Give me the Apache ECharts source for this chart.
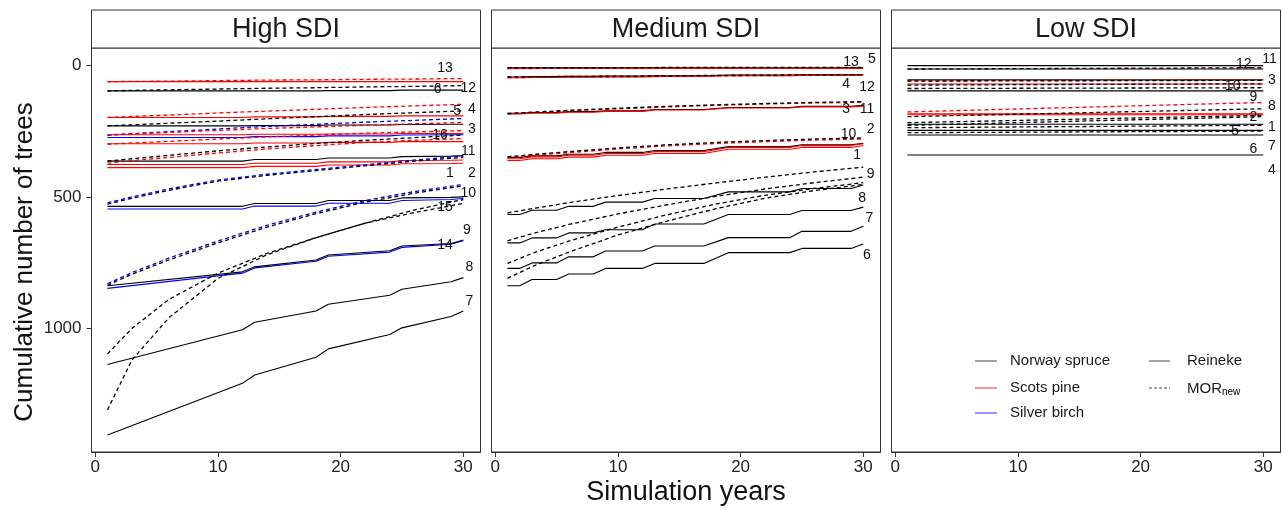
<!DOCTYPE html>
<html>
<head>
<meta charset="utf-8">
<title>Cumulative number of trees</title>
<script src="https://cdn.jsdelivr.net/npm/echarts@6/dist/echarts.min.js"></script>
<style>
    html, body { margin: 0; padding: 0; background: #fff; }
    #chart { width: 1282px; height: 509px; }
</style>
</head>
<body>
<div id="chart"></div>
<script>
var yearsStepHigh = [1, 12, 13, 18, 19, 24, 25, 29, 30];
var yearsStepMed = [1, 2, 3, 5, 6, 8, 9, 12, 13, 17, 19, 24, 25, 29, 30];
var yearsCurve = [1, 3, 6, 10, 14, 18, 22, 26, 30];
var yearsFlat = [1, 30];

var panelNames = ['High SDI', 'Medium SDI', 'Low SDI'];
var speciesNames = ['Norway spruce', 'Scots pine', 'Silver birch'];
var modelNames = ['Reineke', 'MORnew'];
var xTicks = [0, 10, 20, 30];
var yTicks = [0, 500, 1000];

// [species index, cumulative trees]  0 spruce, 1 pine, 2 birch
var highReineke = [
    [0, [1405, 1209, 1177, 1110, 1078, 1023, 998, 955, 934]],
    [0, [1137, 1005, 977, 934, 908, 874, 851, 823, 807]],
    [2, [848, 790, 770, 745, 726, 710, 692, 680, 667]],
    [0, [838, 785, 766, 740, 721, 705, 687, 677, 664]],
    [2, [546, 546, 535, 535, 524, 524, 514, 510, 506]],
    [0, [536, 536, 525, 525, 514, 514, 504, 502, 500]],
    [1, [389, 389, 384, 384, 379, 379, 374, 373, 372]],
    [1, [377, 377, 372, 372, 367, 367, 362, 361, 360]],
    [0, [364, 364, 358, 358, 352, 352, 347, 345, 343]],
    [1, [298, 298, 295, 295, 293, 293, 290, 290, 290]],
    [2, [274, 274, 271, 271, 268, 268, 265, 264, 264]],
    [1, [264, 264, 262, 262, 261, 261, 259, 259, 259]],
    [0, [230, 230, 229, 229, 227, 227, 225, 224, 224]],
    [1, [198, 198, 196, 196, 194, 194, 192, 192, 192]],
    [0, [97, 97, 97, 97, 96, 96, 94, 94, 94]],
    [1, [62, 62, 62, 62, 62, 62, 62, 62, 62]]
];
var highMOR = [
    [0, [1310, 1120, 960, 810, 720, 655, 600, 560, 525]],
    [0, [1097, 1000, 890, 790, 715, 655, 600, 550, 510]],
    [0, [836, 794, 740, 675, 615, 564, 520, 486, 458]],
    [2, [830, 788, 733, 668, 608, 558, 514, 480, 453]],
    [0, [528, 505, 475, 440, 418, 400, 382, 364, 350]],
    [2, [523, 500, 470, 436, 414, 396, 378, 360, 345]],
    [1, [372, 362, 350, 333, 318, 305, 293, 285, 278]],
    [0, [364, 355, 342, 325, 310, 297, 285, 275, 265]],
    [1, [300, 295, 289, 280, 272, 265, 258, 253, 248]],
    [2, [266, 260, 252, 242, 232, 224, 216, 209, 202]],
    [1, [264, 260, 255, 247, 240, 234, 228, 222, 217]],
    [0, [230, 226, 220, 212, 203, 195, 187, 180, 173]],
    [1, [198, 194, 189, 181, 174, 167, 160, 154, 148]],
    [0, [97, 95, 93, 90, 87, 85, 82, 80, 77]],
    [1, [62, 61, 60, 58, 56, 55, 53, 52, 50]]
];

var medReineke = [
    [0, [567, 567, 551, 551, 536, 536, 520, 520, 506, 506, 481, 481, 468, 468, 455]],
    [0, [675, 675, 656, 656, 637, 637, 625, 625, 603, 603, 567, 567, 552, 552, 539]],
    [0, [772, 772, 751, 751, 728, 728, 706, 706, 687, 687, 655, 655, 631, 631, 612]],
    [0, [838, 838, 814, 814, 793, 793, 772, 772, 753, 753, 712, 712, 696, 696, 679]],
    [0, [350, 350, 344, 344, 338, 338, 331, 331, 324, 324, 309, 309, 302, 302, 296]],
    [1, [355, 355, 348, 348, 342, 342, 335, 335, 328, 328, 312, 312, 305, 305, 298]],
    [1, [362, 362, 355, 355, 349, 349, 342, 342, 335, 335, 319, 319, 312, 312, 305]],
    [0, [182, 182, 179, 179, 176, 176, 173, 173, 168, 168, 160, 160, 156, 156, 152]],
    [1, [185, 185, 182, 182, 178, 178, 175, 175, 170, 170, 162, 162, 158, 158, 155]],
    [0, [44, 44, 43, 43, 42, 42, 41, 41, 40, 40, 37, 37, 36, 36, 35]],
    [1, [47, 47, 46, 46, 45, 45, 44, 44, 42, 42, 39, 39, 38, 38, 37]],
    [0, [9, 9, 9, 9, 9, 9, 9, 9, 9, 9, 9, 9, 9, 9, 9]],
    [1, [12, 12, 12, 12, 12, 12, 12, 12, 12, 12, 12, 12, 12, 12, 12]]
];
var medMOR = [
    [0, [561, 545, 522, 495, 470, 447, 425, 405, 387]],
    [0, [667, 640, 605, 565, 530, 498, 470, 446, 425]],
    [0, [753, 715, 668, 615, 568, 527, 494, 468, 446]],
    [0, [810, 765, 710, 645, 592, 545, 505, 476, 453]],
    [1, [352, 343, 332, 318, 306, 297, 290, 284, 280]],
    [0, [348, 339, 328, 314, 302, 293, 286, 280, 276]],
    [1, [185, 180, 173, 165, 158, 152, 147, 143, 140]],
    [0, [183, 178, 171, 163, 156, 150, 145, 141, 138]],
    [1, [47, 46, 45, 44, 42, 40, 39, 38, 37]],
    [0, [44, 43, 42, 41, 40, 38, 37, 36, 35]],
    [1, [12, 12, 11, 11, 10, 10, 10, 9, 9]],
    [0, [9, 9, 9, 9, 8, 8, 8, 8, 8]]
];

var lowReineke = [
    [0, [1, 1]],
    [0, [14, 14]],
    [0, [55, 55]],
    [1, [71, 71]],
    [0, [97, 97]],
    [1, [184, 184]],
    [1, [188, 188]],
    [0, [224, 224]],
    [0, [247, 247]],
    [0, [265, 265]],
    [0, [341, 341]]
];
var lowMOR = [
    [0, [14, 9]],
    [1, [58, 55]],
    [0, [60, 57]],
    [0, [75, 70]],
    [0, [88, 85]],
    [1, [177, 141]],
    [0, [195, 165]],
    [0, [218, 190]],
    [0, [228, 195]],
    [0, [237, 228]],
    [0, [256, 250]]
];

// stand numbers: [stand, year, trees]
var highLabels = [
    [13, 28.5, 10], [6, 27.9, 90], [12, 30.4, 88], [5, 29.5, 175], [4, 30.7, 167],
    [3, 30.7, 243], [16, 28.1, 265], [11, 30.4, 328], [1, 28.9, 408], [2, 30.7, 408],
    [10, 30.4, 487], [15, 28.5, 539], [9, 30.3, 625], [14, 28.5, 682], [8, 30.5, 766], [7, 30.5, 895]
];
var medLabels = [
    [13, 29.0, -11], [5, 30.7, -24], [4, 28.6, 71], [12, 30.3, 84], [3, 28.6, 167],
    [11, 30.3, 167], [10, 28.8, 260], [2, 30.6, 243], [1, 29.5, 341], [9, 30.6, 415],
    [8, 29.9, 504], [7, 30.5, 580], [6, 30.3, 721]
];
var lowLabels = [
    [12, 28.4, -5], [11, 30.5, -24], [3, 30.7, 55], [10, 27.5, 78], [9, 29.2, 122],
    [8, 30.7, 154], [2, 29.2, 198], [1, 30.7, 233], [5, 27.7, 249], [7, 30.7, 306],
    [6, 29.2, 319], [4, 30.7, 400]
];

var speciesColors = ['#000000', '#ff0000', '#0000ff'];
var panelLeft = [91.5, 491.5, 891.5];
var panelWidth = 389;
var font = 'Liberation Sans, Arial, sans-serif';

var chart = echarts.init(document.getElementById('chart'), null, { renderer: 'canvas' });

var grids = [], xAxes = [], yAxes = [], series = [], graphics = [];

function addLines(panel, list, years, dashed) {
    list.forEach(function (row) {
        series.push({
            type: 'line',
            xAxisIndex: panel,
            yAxisIndex: panel,
            data: years.map(function (yr, k) { return [yr, row[1][k]]; }),
            showSymbol: false,
            silent: true,
            lineStyle: {
                color: speciesColors[row[0]],
                width: dashed ? 1.3 : 1.1,
                type: dashed ? [4, 3] : 'solid'
            },
            z: dashed ? 3 : 2
        });
    });
}

function addLabels(panel, list) {
    series.push({
        type: 'scatter',
        xAxisIndex: panel,
        yAxisIndex: panel,
        symbolSize: 0,
        itemStyle: { color: '#000', opacity: 1 },
        silent: true,
        clip: false,
        z: 5,
        data: list.map(function (l) { return [l[1], l[2], l[0]]; }),
        label: {
            show: true,
            position: 'inside',
            formatter: function (p) { return p.value[2]; },
            color: '#111',
            opacity: 1,
            fontSize: 14,
            fontFamily: font
        }
    });
}

panelNames.forEach(function (name, i) {
    grids.push({
        left: panelLeft[i], top: 48, width: panelWidth, height: 404,
        show: true, borderColor: '#333', borderWidth: 1, backgroundColor: '#fff'
    });
    xAxes.push({
        type: 'value', gridIndex: i, min: -0.3, max: 31.4,
        axisLine: { show: true, onZero: false, lineStyle: { color: '#333' } },
        axisTick: { show: true, length: 5, customValues: xTicks, lineStyle: { color: '#333' } },
        axisLabel: { customValues: xTicks, color: '#222', fontSize: 17, fontFamily: font, margin: 7 },
        splitLine: { show: false }
    });
    yAxes.push({
        type: 'value', gridIndex: i, inverse: true, min: -66, max: 1470,
        axisLine: { show: false, onZero: false },
        axisTick: { show: i === 0, length: 5, customValues: yTicks, lineStyle: { color: '#333' } },
        axisLabel: {
            show: i === 0, customValues: yTicks, color: '#222', fontSize: 17, fontFamily: font, margin: 10,
            formatter: function (v) { return String(v); }
        },
        splitLine: { show: false }
    });
    // facet strip
    graphics.push({
        type: 'rect',
        shape: { x: panelLeft[i], y: 10, width: panelWidth, height: 38 },
        style: { fill: '#fff', stroke: '#333', lineWidth: 1 }
    });
    graphics.push({
        type: 'text',
        x: panelLeft[i] + panelWidth / 2, y: 30,
        style: { text: name, font: '27px ' + font, fill: '#1a1a1a', textAlign: 'center', textVerticalAlign: 'middle' }
    });
});

addLines(0, highReineke, yearsStepHigh, false);
addLines(0, highMOR, yearsCurve, true);
addLines(1, medReineke, yearsStepMed, false);
addLines(1, medMOR, yearsCurve, true);
addLines(2, lowReineke, yearsFlat, false);
addLines(2, lowMOR, yearsFlat, true);
addLabels(0, highLabels);
addLabels(1, medLabels);
addLabels(2, lowLabels);

// axis titles
graphics.push({
    type: 'text', x: 686, y: 493,
    style: { text: 'Simulation years', font: '27px ' + font, fill: '#111', textAlign: 'center', textVerticalAlign: 'middle' }
});
graphics.push({
    type: 'text', x: 25, y: 262, rotation: Math.PI / 2,
    style: { text: 'Cumulative number of trees', font: '26px ' + font, fill: '#111', textAlign: 'center', textVerticalAlign: 'middle' }
});

// legend inside the Low SDI panel
var legendRows = [361, 388, 413];
speciesNames.forEach(function (s, k) {
    graphics.push({
        type: 'line', shape: { x1: 975, y1: legendRows[k], x2: 997, y2: legendRows[k] },
        style: { stroke: speciesColors[k], lineWidth: 1, opacity: k === 0 ? 0.75 : 0.85 }, z: 10
    });
    graphics.push({
        type: 'text', x: 1010, y: legendRows[k],
        style: { text: s, font: '15px ' + font, fill: '#1a1a1a', textVerticalAlign: 'middle' }, z: 10
    });
});
modelNames.forEach(function (m, k) {
    graphics.push({
        type: 'line', shape: { x1: 1149, y1: legendRows[k], x2: 1170, y2: legendRows[k] },
        style: { stroke: '#444', lineWidth: 1, lineDash: k === 0 ? null : [3, 2] }, z: 10
    });
});
graphics.push({
    type: 'text', x: 1187, y: legendRows[0],
    style: { text: 'Reineke', font: '15px ' + font, fill: '#1a1a1a', textVerticalAlign: 'middle' }, z: 10
});
graphics.push({
    type: 'text', x: 1187, y: legendRows[1] - 8,
    style: {
        text: '{a|MOR}{b|new}',
        rich: {
            a: { fontSize: 15, fontFamily: font, fill: '#1a1a1a', color: '#1a1a1a' },
            b: { fontSize: 10, fontFamily: font, color: '#1a1a1a', padding: [7, 0, 0, 0] }
        }
    }, z: 10
});

chart.setOption({
    animation: false,
    backgroundColor: '#fff',
    grid: grids,
    xAxis: xAxes,
    yAxis: yAxes,
    series: series,
    graphic: graphics
});
</script>
</body>
</html>
